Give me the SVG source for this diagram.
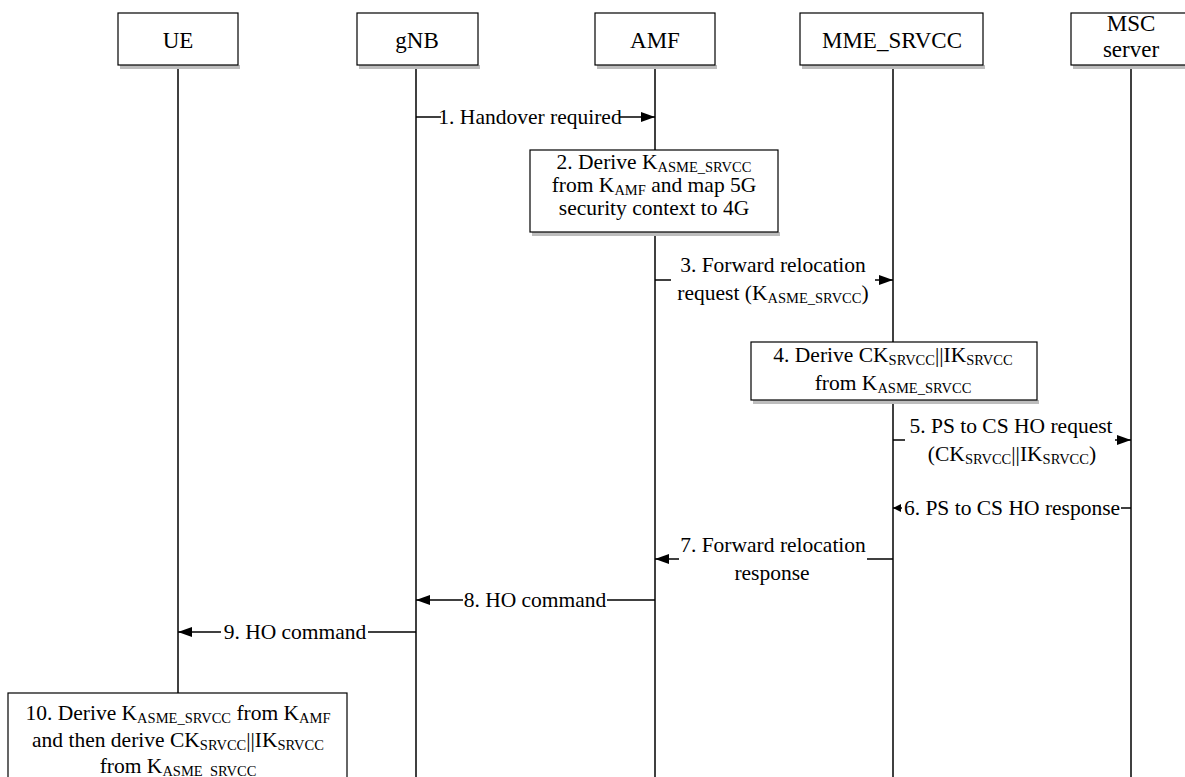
<svg xmlns="http://www.w3.org/2000/svg" width="1185" height="777" viewBox="0 0 1185 777">
<style>
text{font-family:'Liberation Serif','DejaVu Serif',serif;font-size:21.5px;fill:#000}
.m{text-anchor:middle}
.h{font-size:23px}
.box{fill:#fff;stroke:#000;stroke-width:1.2}
.sh{fill:#bdbdbd}
.life{stroke:#000;stroke-width:1.5}
.c{stroke:#000;stroke-width:1.5;fill:none}
</style>
<defs>
<marker id="ah" markerWidth="14" markerHeight="10" refX="14" refY="5" orient="auto" markerUnits="userSpaceOnUse"><path d="M0,0 L14,5 L0,10 z" fill="#000"/></marker>
<marker id="ahs" markerWidth="8" markerHeight="8" refX="8" refY="4" orient="auto" markerUnits="userSpaceOnUse"><path d="M0,0 L8,4 L0,8 z" fill="#000"/></marker>
</defs>

<g id="lifelines">
<line class="life" x1="178" y1="66" x2="178" y2="693"/>
<line class="life" x1="416" y1="66" x2="416" y2="777"/>
<line class="life" x1="655" y1="66" x2="655" y2="777"/>
<line class="life" x1="893" y1="66" x2="893" y2="777"/>
<line class="life" x1="1131" y1="66" x2="1131" y2="777"/>
</g>

<g id="UE">
<rect class="sh" x="120" y="65" width="120" height="4"/>
<rect class="box" x="118" y="13" width="120" height="52"/>
<text class="m h" x="178" y="48">UE</text>
</g>
<g id="gNB">
<rect class="sh" x="359" y="65" width="121" height="4"/>
<rect class="box" x="357" y="13" width="121" height="52"/>
<text class="m h" x="417" y="48">gNB</text>
</g>
<g id="AMF">
<rect class="sh" x="597" y="65" width="120" height="4"/>
<rect class="box" x="595" y="13" width="120" height="52"/>
<text class="m h" x="655" y="48">AMF</text>
</g>
<g id="MME_SRVCC">
<rect class="sh" x="802" y="65" width="183" height="4"/>
<rect class="box" x="800" y="13" width="183" height="52"/>
<text class="m h" x="892" y="48">MME_SRVCC</text>
</g>
<g id="MSC">
<rect class="sh" x="1073" y="65" width="120" height="4"/>
<rect class="box" x="1071" y="13" width="120" height="52"/>
<text class="m h" x="1131" y="31">MSC</text>
<text class="m h" x="1131" y="57">server</text>
</g>

<g id="step2">
<rect class="sh" x="532" y="232" width="248" height="4"/>
<rect class="box" x="530" y="150" width="248" height="82"/>
<text class="m" x="654" y="169">2. Derive K<tspan font-size="14.5" dy="3">ASME_SRVCC</tspan></text>
<text class="m" x="654" y="192">from K<tspan font-size="14.5" dy="3">AMF</tspan><tspan dy="-3"> and map 5G</tspan></text>
<text class="m" x="654" y="215">security context to 4G</text>
</g>

<g id="step4">
<rect class="sh" x="753" y="400" width="286" height="4"/>
<rect class="box" x="751" y="342" width="286" height="58"/>
<text class="m" x="893" y="362">4. Derive CK<tspan font-size="14.5" dy="3">SRVCC</tspan><tspan dy="-3">||IK</tspan><tspan font-size="14.5" dy="3">SRVCC</tspan></text>
<text class="m" x="893" y="390">from K<tspan font-size="14.5" dy="3">ASME_SRVCC</tspan></text>
</g>

<g id="step10">
<rect class="box" x="8" y="693" width="339" height="100"/>
<text class="m" x="178" y="720">10. Derive K<tspan font-size="14.5" dy="3">ASME_SRVCC</tspan><tspan dy="-3"> from K</tspan><tspan font-size="14.5" dy="3">AMF</tspan></text>
<text class="m" x="178" y="747">and then derive CK<tspan font-size="14.5" dy="3">SRVCC</tspan><tspan dy="-3">||IK</tspan><tspan font-size="14.5" dy="3">SRVCC</tspan></text>
<text class="m" x="178" y="773">from K<tspan font-size="14.5" dy="3">ASME_SRVCC</tspan></text>
</g>

<g id="connectors">
<line class="c" x1="416" y1="117" x2="441" y2="117"/>
<line class="c" x1="619" y1="117" x2="655" y2="117" marker-end="url(#ah)"/>
<text class="m" x="530" y="124">1. Handover required</text>

<line class="c" x1="655" y1="280" x2="671" y2="280"/>
<line class="c" x1="875" y1="280" x2="893" y2="280" marker-end="url(#ah)"/>
<text class="m" x="773" y="272">3. Forward relocation</text>
<text class="m" x="773" y="300">request (K<tspan font-size="14.5" dy="3">ASME_SRVCC</tspan><tspan dy="-3">)</tspan></text>

<line class="c" x1="893" y1="440" x2="905" y2="440"/>
<line class="c" x1="1115" y1="440" x2="1131" y2="440" marker-end="url(#ah)"/>
<text class="m" x="1011" y="433">5. PS to CS HO request</text>
<text class="m" x="1012" y="461">(CK<tspan font-size="14.5" dy="3">SRVCC</tspan><tspan dy="-3">||IK</tspan><tspan font-size="14.5" dy="3">SRVCC</tspan><tspan dy="-3">)</tspan></text>

<line class="c" x1="1121" y1="508" x2="1131" y2="508"/>
<line class="c" x1="902" y1="508" x2="893" y2="508" marker-end="url(#ahs)"/>
<text class="m" x="1012" y="515">6. PS to CS HO response</text>

<line class="c" x1="867" y1="559" x2="893" y2="559"/>
<line class="c" x1="679" y1="559" x2="655" y2="559" marker-end="url(#ah)"/>
<text class="m" x="773" y="552">7. Forward relocation</text>
<text class="m" x="772" y="580">response</text>

<line class="c" x1="607" y1="600" x2="655" y2="600"/>
<line class="c" x1="463" y1="600" x2="416" y2="600" marker-end="url(#ah)"/>
<text class="m" x="535" y="607">8. HO command</text>

<line class="c" x1="368" y1="632" x2="416" y2="632"/>
<line class="c" x1="221" y1="632" x2="178" y2="632" marker-end="url(#ah)"/>
<text class="m" x="295" y="639">9. HO command</text>
</g>
</svg>
